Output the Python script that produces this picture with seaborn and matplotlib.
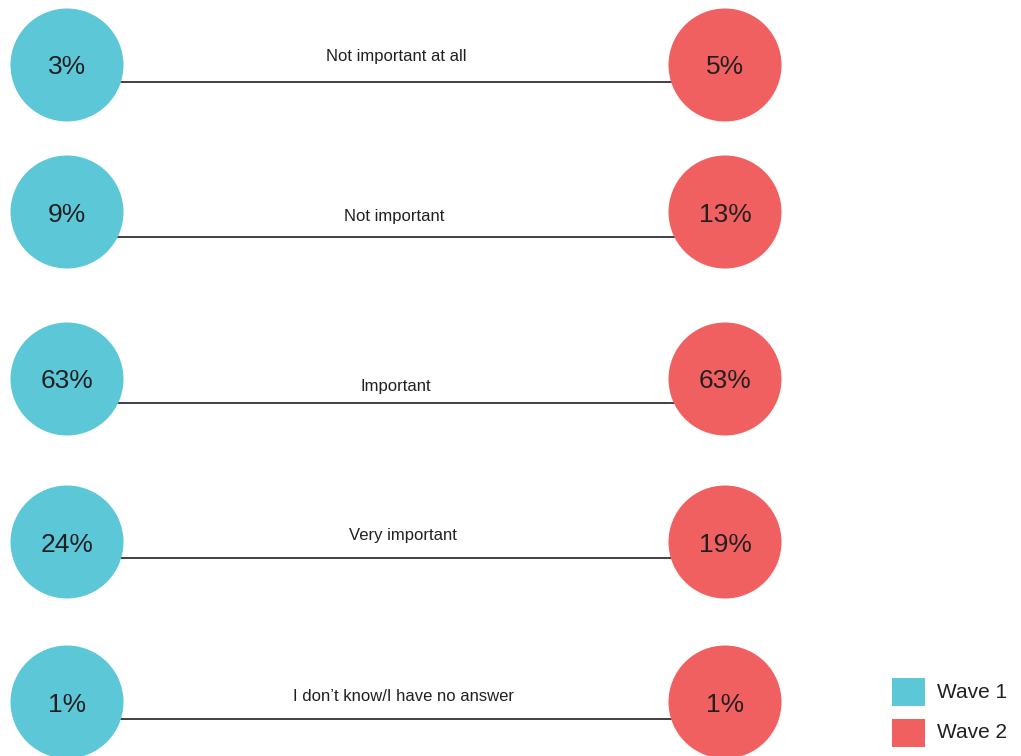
import matplotlib
matplotlib.use("Agg")
import matplotlib.pyplot as plt
from matplotlib.patches import Rectangle
import seaborn as sns
import pandas as pd

# Survey answers and the share of respondents in each wave
categories = ["Not important at all", "Not important", "Important",
              "Very important", "I don't know/I have no answer"]
wave1 = [3, 9, 63, 24, 1]
wave2 = [5, 13, 63, 19, 1]
waves = ["Wave 1", "Wave 2"]

# Layout (figure pixel coordinates)
row_y = [65, 212, 379, 542, 702]
line_y = [82, 237, 403, 558, 719]
label_x = [396, 394, 396, 403, 403]
label_base = [61, 221, 391, 540, 701]
wave_x = {"Wave 1": 67, "Wave 2": 725}
palette = {"Wave 1": "#5CC8D7", "Wave 2": "#F06061"}
text_color = "#231F20"

sns.set_theme(style="white")
plt.rcParams["font.family"] = ["Liberation Sans", "DejaVu Sans"]

df = pd.DataFrame({
    "category": categories * 2,
    "wave": [waves[0]] * len(categories) + [waves[1]] * len(categories),
    "value": wave1 + wave2,
    "y": row_y * 2,
})
df["x"] = df["wave"].map(wave_x)

fig = plt.figure(figsize=(10.21, 7.56), dpi=100)
ax = fig.add_axes([0, 0, 1, 1])
ax.set_xlim(0, 1021)
ax.set_ylim(756, 0)
ax.axis("off")

# Connecting lines between the two waves
ax.hlines(line_y, wave_x["Wave 1"] + 50, wave_x["Wave 2"] - 50,
          color=text_color, linewidth=1.2, zorder=1)

# Answer labels above the lines
for cat, lx, ly in zip(categories, label_x, label_base):
    ax.text(lx, ly, cat.replace("'", "\u2019"), ha="center", va="baseline",
            fontsize=12, color=text_color, zorder=3)

# Circles for each wave
radius_pt = 56.5 * 72 / 100
sns.scatterplot(data=df, x="x", y="y", hue="wave", palette=palette,
                s=(2 * radius_pt) ** 2, linewidth=0, ax=ax, legend=False,
                zorder=2)

for _, r in df.iterrows():
    ax.text(r["x"], r["y"] + 9.5, f"{r['value']}%", ha="center",
            va="baseline", fontsize=19, color=text_color, zorder=4)

# Legend: colour swatches with wave names
for i, w in enumerate(waves):
    top = 678 + 41 * i
    ax.add_patch(Rectangle((892, top), 33, 28, facecolor=palette[w],
                           edgecolor="none", zorder=3))
    ax.text(937, top + 14, w, ha="left", va="center", fontsize=15,
            color=text_color, zorder=3)

fig.savefig("out.png", dpi=100)
